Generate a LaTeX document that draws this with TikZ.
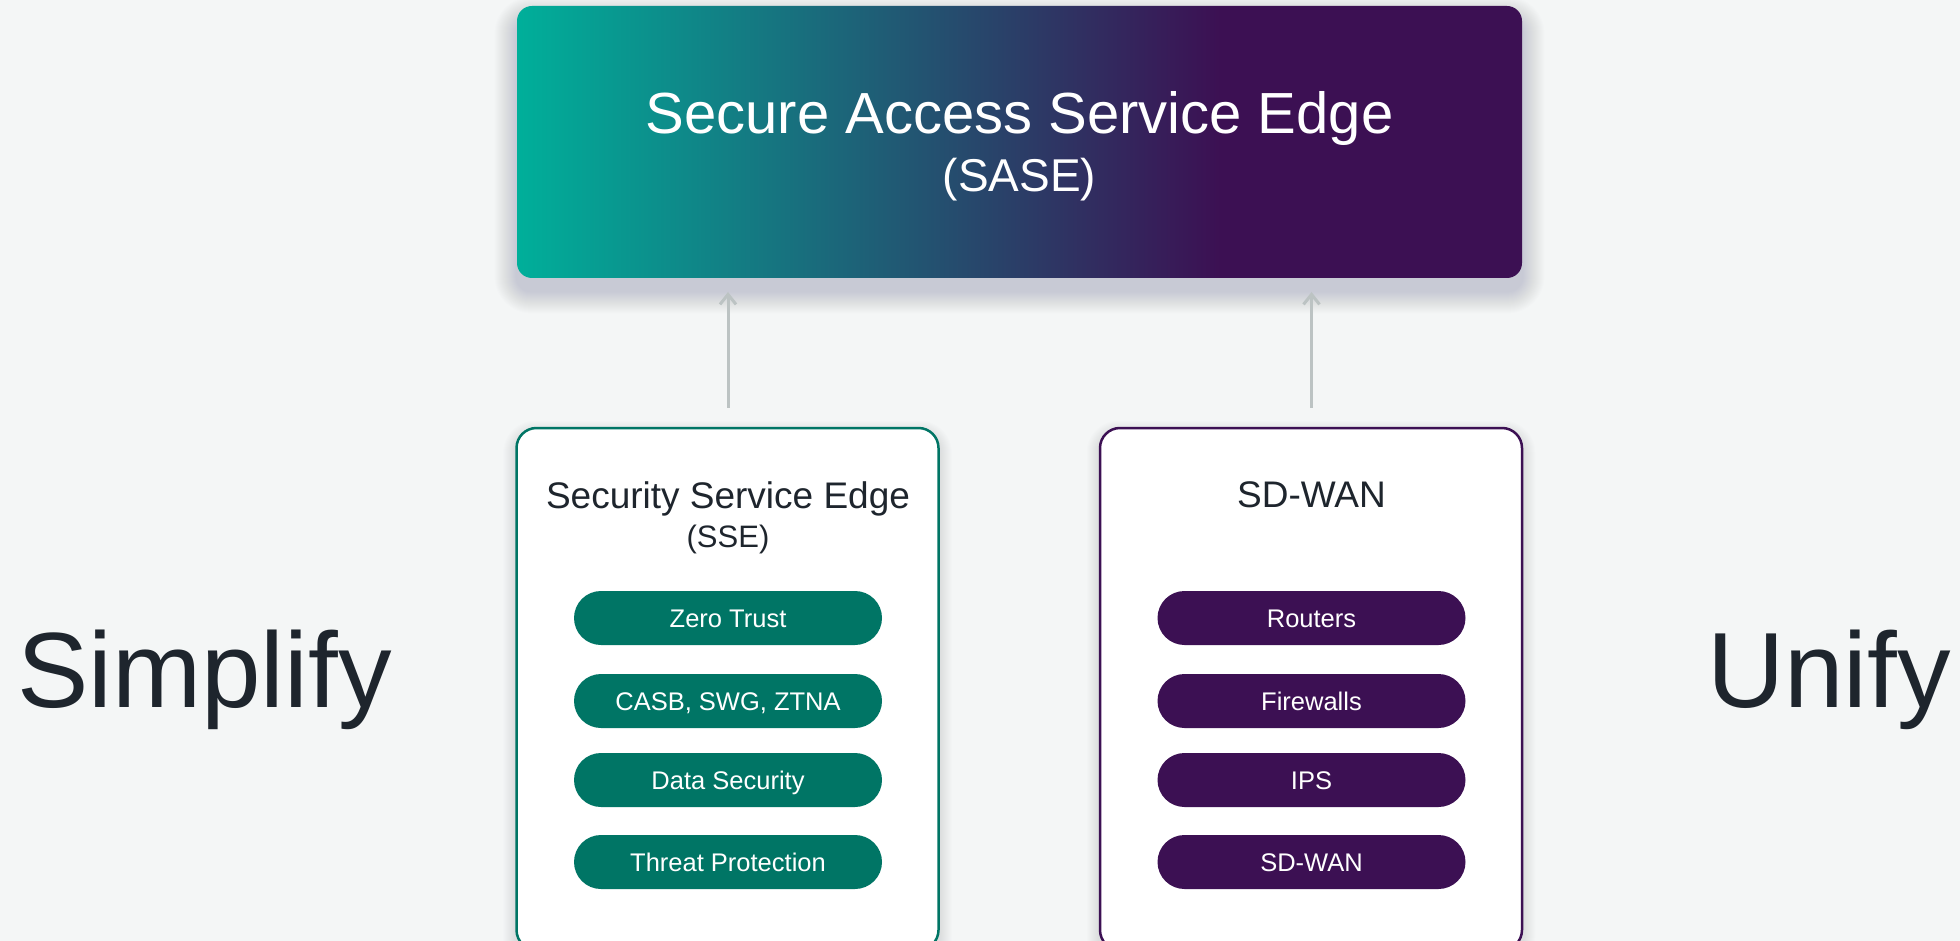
\documentclass[tikz,border=0pt]{standalone}
\usepackage{fontspec}
\setmainfont{Liberation Sans}
\usetikzlibrary{arrows.meta}
\definecolor{bgc}{HTML}{F4F6F6}
\definecolor{ink}{HTML}{1E252D}
\definecolor{tealc}{HTML}{007565}
\definecolor{tealL}{HTML}{00AF9A}
\definecolor{purp}{HTML}{3C1053}
\definecolor{arrc}{HTML}{BCC3C3}
\definecolor{shc}{HTML}{5A6A8C}
\pgfdeclarehorizontalshading{saseshade}{100bp}{color(0bp)=(tealL); color(25bp)=(tealL); color(60bp)=(purp); color(100bp)=(purp)}
\pgfdeclarelayer{bglayer}
\pgfdeclarelayer{shadowlayer}
\pgfsetlayers{bglayer,shadowlayer,main}
\newcommand\softshadow[6]{%
  \begin{pgfonlayer}{shadowlayer}
  \foreach \k in {1,...,#5}{%
    \pgfmathsetmacro\rr{(#2+\k)*0.5}%
    \fill[shc, opacity=#6, rounded corners=\rr pt]
      ([shift={(#3-\k,#4-\k)}]#1.north west) rectangle ([shift={(#3+\k,#4+\k)}]#1.south east);
  }%
  \end{pgfonlayer}}
\tikzset{
  sasebox/.style={rectangle, rounded corners=7.5pt, shading=saseshade, draw=none,
    minimum width=502.5pt, minimum height=136pt, inner sep=0pt},
  colbox/.style={rectangle, rounded corners=10pt, fill=white, line width=1.25pt,
    minimum width=211pt, minimum height=261pt, inner sep=0pt},
  pill/.style={rectangle, rounded corners=13.5pt, text=white,
    minimum width=154pt, minimum height=27pt, inner sep=0pt,
    font=\fontsize{12.75pt}{15pt}\selectfont, text height=9.2pt, text depth=0pt},
  pillL/.style={pill, fill=tealc},
  pillR/.style={pill, fill=purp},
  lbl/.style={inner sep=0pt, anchor=base},
  arr/.style={draw=arrc, line width=1.5pt, -{Straight Barb[length=5pt,width=8pt]}}
}
\begin{document}
\begin{tikzpicture}[x=0.5pt,y=-0.5pt]
\begin{pgfonlayer}{bglayer}
\fill[bgc] (0,0) rectangle (1960,941);
\end{pgfonlayer}
\useasboundingbox (0,0) rectangle (1960,941);

% top box
\node[sasebox] (sase) at (1019.5,142) {};
\node[lbl, text=white, font=\fontsize{29pt}{34pt}\selectfont] (saset) at (1019.5,133.5) {Secure Access Service Edge};
\node[lbl, text=white, font=\fontsize{23pt}{28pt}\selectfont] (sases) at (1019.5,192) {(SASE)};

% column boxes
\node[colbox, draw=tealc] (sse) at (727.5,689) {};
\node[colbox, draw=purp] (sdw) at (1311,689) {};
\node[lbl, text=ink, font=\fontsize{18.5pt}{22pt}\selectfont] (sset) at (728,508) {Security Service Edge};
\node[lbl, text=ink, font=\fontsize{15.5pt}{19pt}\selectfont] (sses) at (728,547) {(SSE)};
\node[lbl, text=ink, font=\fontsize{18.5pt}{22pt}\selectfont] (sdwt) at (1311.5,507.5) {SD-WAN};

% pills
\node[pillL] (p1) at (728,618) {Zero Trust};
\node[pillL] (p2) at (728,701) {CASB, SWG, ZTNA};
\node[pillL] (p3) at (728,780) {Data Security};
\node[pillL] (p4) at (728,862) {Threat Protection};
\node[pillR] (q1) at (1311.5,618) {Routers};
\node[pillR] (q2) at (1311.5,701) {Firewalls};
\node[pillR] (q3) at (1311.5,780) {IPS};
\node[pillR] (q4) at (1311.5,862) {SD-WAN};

% side words
\node[lbl, text=ink, font=\fontsize{53.5pt}{60pt}\selectfont] (simp) at (204.3,707) {Simplify};
\node[lbl, text=ink, font=\fontsize{53.5pt}{60pt}\selectfont] (unif) at (1829,707) {Unify};

% arrows
\draw[arr, shorten <=9.5pt, shorten >=6.8pt] (p1.north |- sse.north) -- (p1.north |- sase.south);
\draw[arr, shorten <=9.5pt, shorten >=6.8pt] (q1.north |- sdw.north) -- (q1.north |- sase.south);

% shadows
\softshadow{sase}{15}{0}{13}{22}{0.013}
\softshadow{sse}{20}{0}{6}{12}{0.01}
\softshadow{sdw}{20}{0}{6}{12}{0.01}
\foreach \n in {p1,p2,p3,p4,q1,q2,q3,q4}{\softshadow{\n}{27}{4}{8}{12}{0.036}}
\end{tikzpicture}
\end{document}
